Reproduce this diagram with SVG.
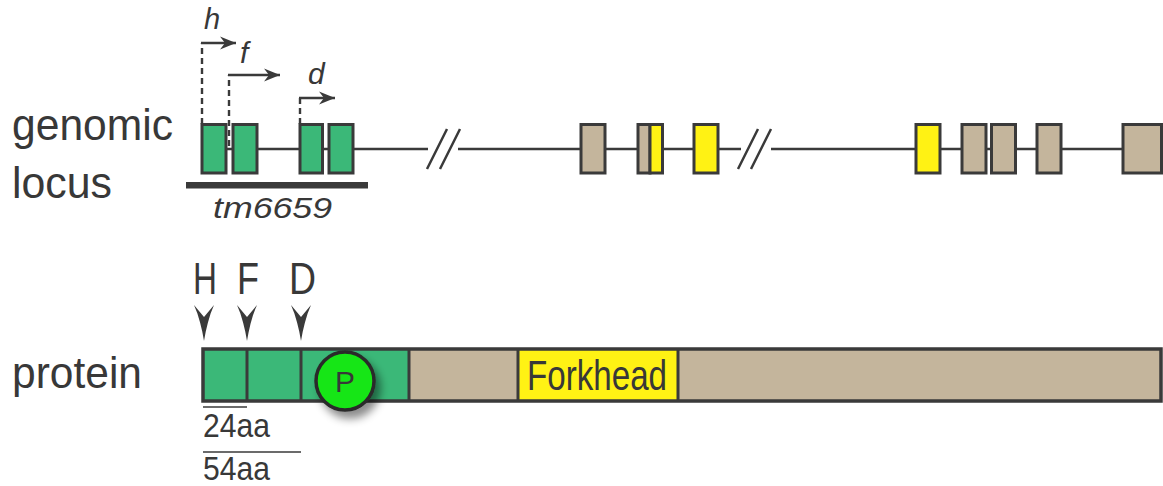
<svg xmlns="http://www.w3.org/2000/svg" width="1163" height="486" viewBox="0 0 1163 486">
<style>
.lbl{font-family:"Liberation Sans",Arial,sans-serif;fill:#383838}
.it{font-family:"Liberation Sans",Arial,sans-serif;font-style:italic;fill:#383838}
.ex{stroke:#3a3a3a;stroke-width:3}
.g{fill:#3bb878}.t{fill:#c4b59c}.y{fill:#fff214}
.dash{fill:none;stroke:#3a3a3a;stroke-width:2.4;stroke-dasharray:6 4}
.ln{fill:none;stroke:#3a3a3a;stroke-width:2.5}
</style>
<defs>
<marker id="ah" markerUnits="userSpaceOnUse" markerWidth="20" markerHeight="16" viewBox="-16 -8 20 16" refX="0" refY="0" orient="auto">
<path d="M0,0 L-16,-6.5 L-11,0 L-16,6.5 Z" fill="#3a3a3a"/>
</marker>
<path id="down" d="M0,36 C-2,24 -5,11 -10,0 L0,12 L10,0 C5,11 2,24 0,36 Z" fill="#3a3a3a"/>
<filter id="sh" x="-50%" y="-50%" width="220%" height="220%">
<feDropShadow dx="5" dy="7" stdDeviation="4" flood-color="#000" flood-opacity="0.45"/>
</filter>
</defs>

<g id="labels">
<text class="lbl" x="12" y="140" font-size="44" textLength="161" lengthAdjust="spacingAndGlyphs">genomic</text>
<text class="lbl" x="12" y="198" font-size="44" textLength="100" lengthAdjust="spacingAndGlyphs">locus</text>
<text class="lbl" x="12" y="388" font-size="44" textLength="130" lengthAdjust="spacingAndGlyphs">protein</text>
</g>

<g id="connectors">
<line class="ln" x1="202" y1="149" x2="1122" y2="149"/>
<path class="dash" d="M202,124 V43"/>
<path class="ln" d="M201,43 H236" marker-end="url(#ah)"/>
<path class="dash" d="M229,146 V75"/>
<path class="ln" d="M228,75 H280" marker-end="url(#ah)"/>
<path class="dash" d="M300,124 V98"/>
<path class="ln" d="M299,98 H335" marker-end="url(#ah)"/>
</g>

<g id="breaks">
<rect x="428" y="146" width="30" height="6" fill="#fff"/>
<path class="ln" stroke-width="2.8" d="M427,169 L447,129 M440,169 L460,129"/>
<rect x="741" y="146" width="30" height="6" fill="#fff"/>
<path class="ln" stroke-width="2.8" d="M738,169 L758,129 M751,169 L771,129"/>
</g>

<g id="exons">
<rect class="ex g" x="202" y="124.5" width="24" height="48.5"/>
<rect class="ex g" x="233" y="124.5" width="24" height="48.5"/>
<rect class="ex g" x="300" y="124.5" width="22.5" height="48.5"/>
<rect class="ex g" x="329" y="124.5" width="24" height="48.5"/>
<rect class="ex t" x="581" y="124.5" width="24" height="48.5"/>
<rect class="ex t" x="638" y="124.5" width="12" height="48.5"/>
<rect class="ex y" x="650" y="124.5" width="12.5" height="48.5"/>
<rect class="ex y" x="694" y="124.5" width="24" height="48.5"/>
<rect class="ex y" x="916" y="124.5" width="24" height="48.5"/>
<rect class="ex t" x="962" y="124.5" width="24" height="48.5"/>
<rect class="ex t" x="991.5" y="124.5" width="24" height="48.5"/>
<rect class="ex t" x="1037" y="124.5" width="24" height="48.5"/>
<rect class="ex t" x="1123" y="124.5" width="38.5" height="48.5"/>
</g>

<g id="promoters">
<text class="it" x="204" y="29" font-size="29">h</text>
<text class="it" x="240" y="63" font-size="30">f</text>
<text class="it" x="308" y="84" font-size="30">d</text>
</g>

<g id="deletion">
<rect x="186" y="182" width="182" height="6.5" fill="#3a3a3a"/>
<text class="it" x="213" y="218" font-size="30" textLength="119" lengthAdjust="spacingAndGlyphs">tm6659</text>
</g>

<g id="sites">
<text class="lbl" x="193" y="294" font-size="44" textLength="24" lengthAdjust="spacingAndGlyphs">H</text>
<text class="lbl" x="237" y="294" font-size="44" textLength="22" lengthAdjust="spacingAndGlyphs">F</text>
<text class="lbl" x="289" y="294" font-size="44" textLength="27" lengthAdjust="spacingAndGlyphs">D</text>
<use href="#down" x="204" y="305"/>
<use href="#down" x="247" y="305"/>
<use href="#down" x="301" y="305"/>
</g>

<g id="protein">
<rect class="g" x="203" y="349" width="206" height="52"/>
<rect class="t" x="409" y="349" width="109" height="52"/>
<rect class="y" x="518" y="349" width="160" height="52"/>
<rect class="t" x="678" y="349" width="483" height="52"/>
<path fill="none" stroke="#3a3a3a" stroke-width="3" d="M247,349 V401 M301,349 V401 M409,349 V401 M518,349 V401 M678,349 V401"/>
<rect x="203" y="349" width="958" height="52" fill="none" stroke="#3a3a3a" stroke-width="3.5"/>
<text class="lbl" x="527" y="390" font-size="42" textLength="140" lengthAdjust="spacingAndGlyphs">Forkhead</text>
</g>

<g id="phospho">
<circle cx="345" cy="381" r="29" fill="#17e617" stroke="#2a2a2a" stroke-width="3.5" filter="url(#sh)"/>
<text class="lbl" x="345" y="392" font-size="30" text-anchor="middle" textLength="20" lengthAdjust="spacingAndGlyphs">P</text>
</g>

<g id="lengths">
<line x1="203" y1="407" x2="247" y2="407" stroke="#3a3a3a" stroke-width="1.5"/>
<text class="lbl" x="203" y="437" font-size="33" textLength="67" lengthAdjust="spacingAndGlyphs">24aa</text>
<line x1="203" y1="452" x2="301" y2="452" stroke="#3a3a3a" stroke-width="1.5"/>
<text class="lbl" x="203" y="480" font-size="33" textLength="67" lengthAdjust="spacingAndGlyphs">54aa</text>
</g>
</svg>
